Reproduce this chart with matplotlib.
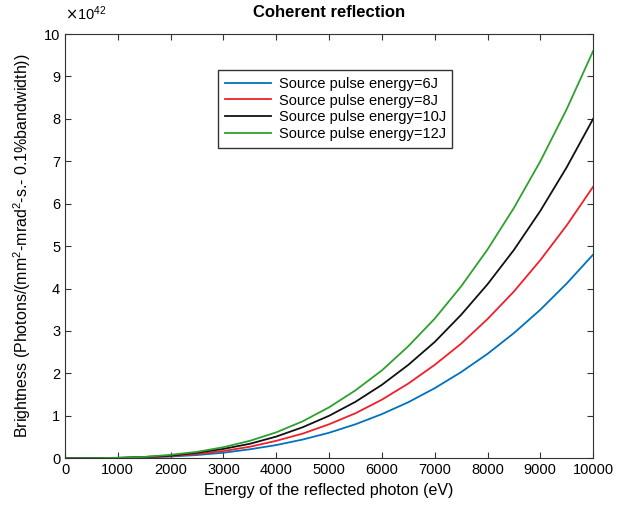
import matplotlib
matplotlib.use("Agg")
import matplotlib.pyplot as plt

plt.rcParams['font.family'] = ['Liberation Sans', 'DejaVu Sans']

# photon energy (eV)
energy = [0, 500, 1000, 1500, 2000, 2500, 3000, 3500, 4000, 4500, 5000,
          5500, 6000, 6500, 7000, 7500, 8000, 8500, 9000, 9500, 10000]

# brightness, units of 1e42
b_6J = [0, 0.001, 0.005, 0.016, 0.04, 0.075, 0.13, 0.21, 0.31, 0.44, 0.60,
        0.80, 1.04, 1.32, 1.65, 2.03, 2.46, 2.95, 3.50, 4.12, 4.80]
b_8J = [0, 0.001, 0.006, 0.02, 0.05, 0.10, 0.17, 0.27, 0.41, 0.58, 0.80,
        1.06, 1.38, 1.76, 2.20, 2.70, 3.28, 3.93, 4.67, 5.49, 6.40]
b_10J = [0, 0.001, 0.008, 0.03, 0.06, 0.13, 0.22, 0.34, 0.51, 0.73, 1.00,
         1.33, 1.73, 2.20, 2.74, 3.38, 4.10, 4.91, 5.83, 6.86, 8.00]
b_12J = [0, 0.001, 0.01, 0.03, 0.08, 0.15, 0.26, 0.41, 0.61, 0.87, 1.20,
         1.60, 2.07, 2.64, 3.29, 4.05, 4.92, 5.90, 7.00, 8.23, 9.60]

labels = ["Source pulse energy=6J", "Source pulse energy=8J",
          "Source pulse energy=10J", "Source pulse energy=12J"]

fig = plt.figure(figsize=(6.25, 5.08), dpi=100)
ax = fig.add_axes([0.104, 0.098, 0.845, 0.835])

ax.plot(energy, b_6J, color="#0072BD", lw=1.3, label=labels[0])
ax.plot(energy, b_8J, color="#F0202A", lw=1.3, label=labels[1])
ax.plot(energy, b_10J, color="#111111", lw=1.3, label=labels[2])
ax.plot(energy, b_12J, color="#2EA02E", lw=1.3, label=labels[3])

ax.set_xlim(0, 10000)
ax.set_ylim(0, 10)
ax.set_xticks(range(0, 10001, 1000))
ax.set_yticks(range(0, 11))
ax.tick_params(direction="in", top=True, right=True, labelsize=10.5, length=4,
               color="#333333")
for s in ax.spines.values():
    s.set_color("#333333")

ax.text(0.0, 1.025, r"$\times\mathregular{10^{42}}$", transform=ax.transAxes,
        fontsize=10.5, va="bottom", ha="left")

ax.set_title("Coherent reflection", fontsize=12, fontweight="bold", pad=12)
ax.set_xlabel("Energy of the reflected photon (eV)", fontsize=11.5)
ax.set_ylabel(r"Brightness (Photons/(mm$\mathregular{^2}$-mrad$\mathregular{^2}$-s.- 0.1%bandwidth))",
              fontsize=11.5, labelpad=8)

leg = ax.legend(loc="upper left", bbox_to_anchor=(0.29, 0.915), fontsize=10.5,
                handlelength=3.2, fancybox=False, framealpha=1, borderaxespad=0,
                borderpad=0.45, labelspacing=0.2, handletextpad=0.5)
leg.get_frame().set_edgecolor("#333333")

fig.savefig("out.png", dpi=100)
